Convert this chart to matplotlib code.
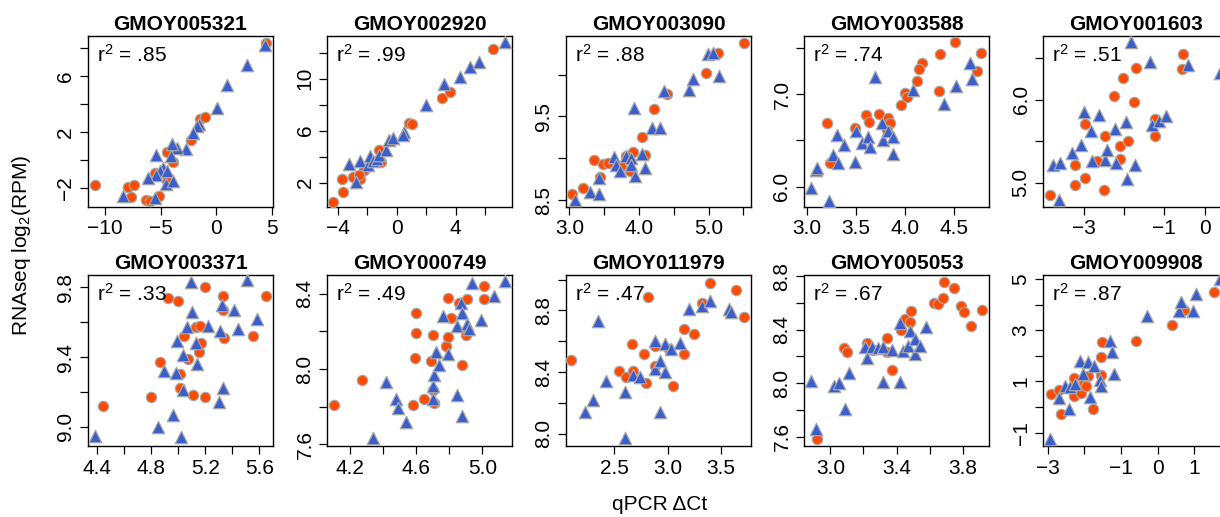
import matplotlib
matplotlib.use("Agg")
import matplotlib.pyplot as plt

plt.rcParams['font.family'] = ['Liberation Sans', 'DejaVu Sans']
plt.rcParams['mathtext.fontset'] = 'custom'
plt.rcParams['mathtext.rm'] = 'Liberation Sans'
plt.rcParams['mathtext.it'] = 'Liberation Sans'

titles = ["GMOY005321", "GMOY002920", "GMOY003090", "GMOY003588", "GMOY001603",
          "GMOY003371", "GMOY000749", "GMOY011979", "GMOY005053", "GMOY009908"]
r2_labels = [".85", ".99", ".88", ".74", ".51", ".33", ".49", ".47", ".67", ".87"]

# ---- panel data: orange circles (ox, oy), blue triangles (bx, by) ----
p1_ox = [4.46, -10.9, -7.96, -7.36, -7.66, -6.34, -5.95, -5.11, -1.45, -1.0, -2.29, -4.45, -3.91, -5.5, -4.45]
p1_oy = [8.38, -1.76, -1.93, -1.81, -2.64, -2.83, -2.95, -2.59, 2.94, 3.06, 1.44, 0.54, -0.17, -0.93, -1.52]
p1_bx = [4.4, 2.75, 1.01, 0.11, -1.51, -1.7, -2.11, -2.74, -3.55, -4.0, -4.06, -5.41, -4.75, -5.05, -4.45, -5.41, -6.16, -4.51, -3.85, -8.41, -5.5]
p1_by = [8.21, 6.79, 5.36, 3.7, 2.56, 2.4, 1.92, 0.8, 0.85, 1.16, 0.26, 0.35, -0.57, -0.81, -0.81, -1.05, -1.29, -1.69, -1.52, -2.55, -2.71]

p2_ox = [-4.32, -3.67, -3.74, -3.0, -2.48, -2.25, -1.08, -1.17, 0.83, 1.04, 3.04, 3.6, 6.53, -2.57]
p2_oy = [0.54, 1.31, 2.28, 2.4, 2.28, 3.0, 3.6, 4.53, 6.58, 6.53, 8.55, 8.98, 12.26, 2.61]
p2_bx = [-3.22, -2.52, -2.75, -1.98, -1.8, -1.6, -1.35, -1.22, -0.72, -0.5, -0.27, 0.52, 0.45, 1.96, 3.22, 4.28, 5.0, 5.56, 7.34]
p2_by = [3.41, 3.66, 2.05, 3.38, 4.02, 3.7, 3.82, 4.12, 4.53, 5.3, 5.43, 5.86, 5.7, 8.01, 9.6, 10.16, 10.93, 11.3, 12.84]

p3_ox = [5.51, 5.14, 4.96, 4.40, 4.21, 4.04, 4.09, 3.92, 3.81, 3.35, 3.48, 3.55, 3.44, 3.2, 3.03, 3.87, 3.74]
p3_oy = [10.38, 10.26, 10.02, 9.77, 9.59, 9.25, 9.04, 9.08, 9.03, 8.98, 8.93, 8.94, 8.78, 8.65, 8.57, 8.85, 8.91]
p3_bx = [3.08, 3.29, 3.43, 3.42, 3.64, 3.67, 3.73, 3.81, 3.89, 3.89, 3.94, 4.04, 4.08, 3.93, 4.19, 4.3, 4.36, 4.72, 4.77, 5.15, 4.99, 5.06]
p3_by = [8.5, 8.6, 8.58, 8.77, 9.02, 8.92, 8.85, 9.03, 9.0, 8.92, 8.79, 9.05, 8.88, 9.6, 9.36, 9.36, 9.8, 9.82, 9.95, 9.98, 10.24, 10.26]

p4_ox = [4.51, 4.78, 4.36, 4.18, 4.14, 4.12, 4.0, 4.02, 3.96, 4.74, 4.35, 3.74, 3.83, 3.85, 3.6, 3.63, 3.2, 3.49, 3.24, 3.82]
p4_oy = [7.56, 7.45, 7.44, 7.34, 7.27, 7.14, 7.01, 6.97, 6.88, 7.25, 7.04, 6.79, 6.74, 6.69, 6.78, 6.7, 6.69, 6.63, 6.26, 6.61]
p4_bx = [3.04, 3.09, 3.1, 3.27, 3.32, 3.31, 3.38, 3.23, 3.5, 3.49, 3.56, 3.62, 3.64, 3.7, 3.77, 3.78, 3.83, 3.88, 3.88, 4.08, 4.4, 4.52, 4.69, 4.67]
p4_by = [5.99, 6.18, 6.2, 6.34, 6.26, 6.56, 6.45, 5.84, 6.6, 6.27, 6.47, 6.54, 6.43, 7.19, 6.69, 6.51, 6.6, 6.54, 6.35, 7.05, 6.89, 7.09, 7.16, 7.34]

p5_ox = [-3.83, -3.22, -3.22, -2.96, -2.98, -2.5, -2.46, -2.24, -2.11, -2.11, -2.02, -1.9, -1.76, -1.71, -1.24, -1.22, -0.54, -0.56, -2.67]
p5_oy = [4.85, 5.22, 4.98, 5.06, 5.71, 4.92, 5.56, 6.05, 5.44, 5.29, 6.26, 5.5, 5.98, 6.38, 5.57, 5.77, 6.55, 6.37, 5.27]
p5_bx = [-3.77, -3.58, -3.62, -3.29, -3.07, -3.0, -2.83, -2.79, -2.61, -2.46, -2.42, -2.23, -2.2, -1.94, -1.93, -1.72, -1.82, -1.36, -1.3, -1.14, -0.96, -0.41, 0.37]
p5_by = [5.21, 5.24, 4.8, 5.36, 5.46, 5.86, 5.62, 5.27, 5.82, 5.28, 5.4, 5.65, 5.24, 5.73, 5.05, 5.22, 6.7, 6.46, 5.7, 5.75, 5.81, 6.42, 6.33]

p6_ox = [4.44, 4.80, 4.86, 4.92, 5.0, 5.01, 5.04, 5.07, 5.01, 5.11, 5.13, 5.16, 5.17, 5.15, 5.2, 5.2, 5.33, 5.33, 5.34, 5.55, 5.65]
p6_oy = [9.12, 9.17, 9.37, 9.74, 9.72, 9.3, 9.52, 9.39, 9.22, 9.18, 9.57, 9.58, 9.48, 9.43, 9.17, 9.8, 9.75, 9.67, 9.51, 9.52, 9.75]
p6_bx = [4.38, 4.85, 4.96, 4.89, 4.98, 4.99, 5.03, 5.03, 5.02, 5.06, 5.09, 5.1, 5.13, 5.14, 5.22, 5.31, 5.32, 5.33, 5.3, 5.41, 5.44, 5.51, 5.58]
p6_by = [8.95, 9.0, 9.07, 9.32, 9.31, 9.49, 9.41, 9.21, 8.94, 9.57, 9.83, 9.66, 9.48, 9.36, 9.58, 9.55, 9.7, 9.22, 9.14, 9.67, 9.56, 9.84, 9.62]

p7_ox = [4.1, 4.27, 4.58, 4.65, 4.71, 4.59, 4.6, 4.6, 4.69, 4.7, 4.7, 4.78, 4.79, 4.79, 4.81, 4.86, 4.88, 4.9, 4.91, 5.01, 5.01]
p7_oy = [7.81, 7.94, 7.81, 7.84, 7.82, 8.06, 8.19, 8.3, 8.04, 8.18, 7.89, 8.12, 8.17, 8.38, 8.27, 8.35, 8.02, 8.18, 8.37, 8.44, 8.37]
p7_bx = [4.34, 4.42, 4.48, 4.49, 4.54, 4.7, 4.7, 4.71, 4.72, 4.74, 4.76, 4.79, 4.85, 4.85, 4.87, 4.88, 4.88, 4.91, 4.92, 4.94, 4.99, 5.07, 5.14]
p7_by = [7.63, 7.93, 7.84, 7.79, 7.72, 7.91, 7.84, 7.97, 8.09, 8.02, 8.28, 8.08, 7.86, 8.23, 8.35, 8.3, 7.75, 8.24, 8.21, 8.46, 8.26, 8.39, 8.47]

p8_ox = [2.1, 2.55, 2.61, 2.67, 2.68, 2.78, 2.8, 2.82, 2.88, 2.88, 3.05, 3.01, 3.15, 3.15, 3.25, 3.32, 3.4, 3.64, 3.71]
p8_oy = [8.48, 8.41, 8.37, 8.58, 8.41, 8.52, 8.33, 8.89, 8.44, 8.57, 8.31, 8.55, 8.52, 8.68, 8.65, 8.85, 8.98, 8.93, 8.76]
p8_bx = [2.23, 2.3, 2.35, 2.42, 2.6, 2.6, 2.68, 2.74, 2.88, 2.88, 2.93, 2.93, 2.98, 2.98, 3.03, 3.12, 3.2, 3.32, 3.4, 3.57, 3.59]
p8_by = [8.14, 8.22, 8.73, 8.34, 8.27, 7.97, 8.38, 8.37, 8.42, 8.6, 8.47, 8.14, 8.4, 8.58, 8.55, 8.59, 8.81, 8.83, 8.86, 8.81, 8.79]

p9_ox = [2.92, 3.08, 3.1, 3.22, 3.26, 3.34, 3.34, 3.37, 3.43, 3.45, 3.48, 3.49, 3.63, 3.65, 3.68, 3.69, 3.75, 3.79, 3.81, 3.85, 3.92]
p9_oy = [7.58, 8.26, 8.23, 8.3, 8.25, 8.34, 8.23, 8.1, 8.4, 8.48, 8.46, 8.54, 8.6, 8.59, 8.64, 8.76, 8.71, 8.58, 8.53, 8.43, 8.55]
p9_bx = [2.88, 2.91, 3.02, 3.05, 3.09, 3.11, 3.21, 3.22, 3.25, 3.29, 3.32, 3.32, 3.37, 3.42, 3.42, 3.44, 3.47, 3.48, 3.51, 3.51, 3.54, 3.58]
p9_by = [8.02, 7.66, 7.98, 8.0, 7.81, 8.08, 8.27, 8.19, 8.27, 8.26, 8.27, 8.01, 8.25, 8.45, 8.01, 8.24, 8.28, 8.39, 8.33, 8.22, 8.28, 8.42]

p10_ox = [-2.9, -2.7, -2.63, -2.29, -2.29, -2.09, -2.02, -1.95, -1.9, -1.77, -1.56, -1.54, -1.52, -0.6, 0.39, 0.71, 1.55]
p10_oy = [0.52, 0.65, -0.26, 0.43, 1.13, 0.56, 0.94, 0.82, 1.23, -0.09, 1.26, 1.95, 2.56, 2.6, 3.22, 3.81, 4.48]
p10_bx = [-2.93, -2.68, -2.52, -2.41, -2.38, -2.27, -2.13, -2.04, -1.91, -1.85, -1.73, -1.58, -1.56, -1.31, -1.26, -1.2, -0.29, 0.57, 0.65, 0.96, 1.05, 1.71]
p10_by = [-1.23, 0.35, 0.84, -0.06, 0.78, 0.91, 1.82, 1.3, 1.75, 0.39, 1.62, 1.04, 0.84, 2.6, 2.14, 1.3, 3.55, 3.77, 4.09, 3.77, 4.42, 5.0]

orange_x = [p1_ox, p2_ox, p3_ox, p4_ox, p5_ox, p6_ox, p7_ox, p8_ox, p9_ox, p10_ox]
orange_y = [p1_oy, p2_oy, p3_oy, p4_oy, p5_oy, p6_oy, p7_oy, p8_oy, p9_oy, p10_oy]
blue_x = [p1_bx, p2_bx, p3_bx, p4_bx, p5_bx, p6_bx, p7_bx, p8_bx, p9_bx, p10_bx]
blue_y = [p1_by, p2_by, p3_by, p4_by, p5_by, p6_by, p7_by, p8_by, p9_by, p10_by]

# axis limits and ticks (tick label '' = unlabeled tick)
xlims = [(-11.53, 5.12), (-4.73, 7.82), (2.95, 5.61), (2.97, 4.86), (-4.01, 0.58),
         (4.33, 5.70), (4.06, 5.18), (2.05, 3.78), (2.84, 3.96), (-3.13, 1.92)]
ylims = [(-3.35, 8.85), (0.13, 13.28), (8.42, 10.46), (5.78, 7.63), (4.71, 6.77),
         (8.89, 9.87), (7.59, 8.50), (7.92, 9.03), (7.53, 8.81), (-1.52, 5.16)]
xticks = [[-10, -5, 0, 5], [-4, -2, 0, 2, 4, 6], [3.0, 3.5, 4.0, 4.5, 5.0, 5.5], [3.0, 3.5, 4.0, 4.5],
          [-3, -2, -1, 0], [4.4, 4.6, 4.8, 5.0, 5.2, 5.4, 5.6], [4.2, 4.4, 4.6, 4.8, 5.0],
          [2.5, 3.0, 3.5], [3.0, 3.2, 3.4, 3.6, 3.8], [-3, -2, -1, 0, 1]]
xticklabels = [["−10", "−5", "0", "5"], ["−4", "", "0", "", "4", ""], ["3.0", "", "4.0", "", "5.0", ""],
               ["3.0", "3.5", "4.0", "4.5"], ["−3", "", "−1", "0"], ["4.4", "", "4.8", "", "5.2", "", "5.6"],
               ["4.2", "", "4.6", "", "5.0"], ["2.5", "3.0", "3.5"], ["3.0", "", "3.4", "", "3.8"],
               ["−3", "", "−1", "0", "1"]]
yticks = [[-2, 0, 2, 4, 6, 8], [2, 4, 6, 8, 10, 12], [8.5, 9.0, 9.5, 10.0], [6.0, 6.5, 7.0, 7.5],
          [5.0, 5.5, 6.0, 6.5], [9.0, 9.2, 9.4, 9.6, 9.8], [7.6, 7.8, 8.0, 8.2, 8.4],
          [8.0, 8.2, 8.4, 8.6, 8.8, 9.0], [7.6, 7.8, 8.0, 8.2, 8.4, 8.6, 8.8], [-1, 0, 1, 2, 3, 4, 5]]
yticklabels = [["−2", "", "2", "", "6", ""], ["2", "", "6", "", "10", ""], ["8.5", "", "9.5", ""],
               ["6.0", "", "7.0", ""], ["5.0", "", "6.0", ""], ["9.0", "", "9.4", "", "9.8"],
               ["7.6", "", "8.0", "", "8.4"], ["8.0", "", "8.4", "", "8.8", ""],
               ["7.6", "", "8.0", "", "8.4", "", "8.8"], ["−1", "", "1", "", "3", "", "5"]]

ORANGE = "#FF4A00"
BLUE = "#3A5FCD"
EDGE = "#A8A8A8"

W, H = 1220, 517
fig = plt.figure(figsize=(W / 100, H / 100), dpi=100)

lefts = [88, 327, 566, 804, 1043]
tops = [36, 275]
aw, ah = 185, 171

for i in range(10):
    r, c = divmod(i, 5)
    ax = fig.add_axes([lefts[c] / W, 1 - (tops[r] + ah) / H, aw / W, ah / H])
    ax.scatter(orange_x[i], orange_y[i], s=55, marker='o', color=ORANGE,
               edgecolors=EDGE, linewidths=0.9, zorder=3)
    ax.scatter(blue_x[i], blue_y[i], s=80, marker='^', color=BLUE,
               edgecolors=EDGE, linewidths=0.9, zorder=4)
    ax.set_xlim(*xlims[i])
    ax.set_ylim(*ylims[i])
    ax.set_xticks(xticks[i])
    ax.set_xticklabels(xticklabels[i])
    ax.set_yticks(yticks[i])
    ax.set_yticklabels(yticklabels[i], rotation=90, va='center')
    ax.tick_params(direction='out', length=6, width=0.9, labelsize=15, pad=3, color='black')
    for s in ax.spines.values():
        s.set_linewidth(1.0)
    ax.set_title(titles[i], fontsize=15, fontweight='bold', pad=4)
    ax.text(0.05, 0.955, r"$\mathregular{r^2}$ = " + r2_labels[i], transform=ax.transAxes,
            fontsize=15, ha='left', va='top', zorder=5)

fig.text(660 / W, 1 - 505 / H, "qPCR ΔCt", fontsize=15, ha='center', va='center')
fig.text(22 / W, 1 - 245 / H, r"RNAseq log$\mathregular{_2}$(RPM)", fontsize=15,
         ha='center', va='center', rotation=90)

fig.savefig("out.png", dpi=100)
